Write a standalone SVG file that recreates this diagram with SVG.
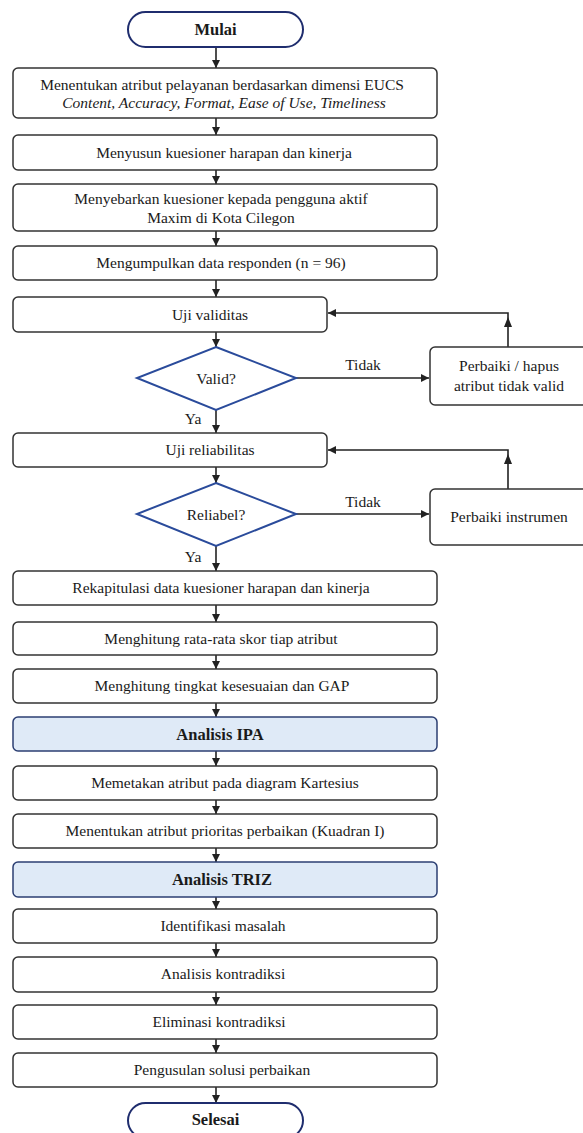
<svg xmlns="http://www.w3.org/2000/svg" width="583" height="1133" viewBox="0 0 583 1133" font-family="Liberation Serif, serif">
<style>
text{font-family:"Liberation Serif","Times New Roman",serif;font-size:15.5px;fill:#1a1a1a;text-anchor:middle}
.b{font-weight:bold;font-size:16.5px}
.i{font-style:italic}
.box{fill:#fff;stroke:#333;stroke-width:1.5}
.hl{fill:#dfeaf7;stroke:#2c3f73;stroke-width:1.5}
.term{fill:#fff;stroke:#1f2d6e;stroke-width:2}
.dia{fill:#fff;stroke:#2a4b9b;stroke-width:2}
.c{fill:none;stroke:#222;stroke-width:1.6}
.ah{fill:#222}
</style>
<defs>
<marker id="arr" viewBox="0 0 10 10" refX="10" refY="5" markerWidth="9" markerHeight="8" markerUnits="userSpaceOnUse" orient="auto">
<path d="M0,0 L10,5 L0,10 z" fill="#222"/>
</marker>
</defs>
<rect width="583" height="1133" fill="#fff"/>
<g id="connectors">
<path class="c" marker-end="url(#arr)" d="M216,47 V68"/>
<path class="c" marker-end="url(#arr)" d="M216,118 V135"/>
<path class="c" marker-end="url(#arr)" d="M216,170 V184"/>
<path class="c" marker-end="url(#arr)" d="M216,231 V246"/>
<path class="c" marker-end="url(#arr)" d="M216,280 V297"/>
<path class="c" marker-end="url(#arr)" d="M216,332 V347"/>
<path class="c" marker-end="url(#arr)" d="M216,410 V433"/>
<path class="c" marker-end="url(#arr)" d="M216,467 V483"/>
<path class="c" marker-end="url(#arr)" d="M216,546 V571"/>
<path class="c" marker-end="url(#arr)" d="M216,605 V622"/>
<path class="c" marker-end="url(#arr)" d="M216,655 V669"/>
<path class="c" marker-end="url(#arr)" d="M216,703 V717"/>
<path class="c" marker-end="url(#arr)" d="M216,751 V766"/>
<path class="c" marker-end="url(#arr)" d="M216,800 V814"/>
<path class="c" marker-end="url(#arr)" d="M216,848 V862"/>
<path class="c" marker-end="url(#arr)" d="M216,897 V909"/>
<path class="c" marker-end="url(#arr)" d="M216,943 V957"/>
<path class="c" marker-end="url(#arr)" d="M216,992 V1005"/>
<path class="c" marker-end="url(#arr)" d="M216,1039 V1053"/>
<path class="c" marker-end="url(#arr)" d="M216,1087 V1103"/>
<path class="c" marker-end="url(#arr)" d="M296,378 H429"/>
<path class="c" marker-end="url(#arr)" d="M296,514 H429"/>
<path class="c" marker-end="url(#arr)" d="M508,347 V313 H328"/>
<polygon class="ah" points="508,317 504,327 512,327"/>
<path class="c" marker-end="url(#arr)" d="M508,489 V450 H328"/>
<polygon class="ah" points="508,454 504,464 512,464"/>
<text x="363" y="370">Tidak</text>
<text x="363" y="507">Tidak</text>
<text x="193" y="424">Ya</text>
<text x="193" y="562">Ya</text>
</g>
<g id="n-mulai"><rect class="term" x="128" y="12" width="175" height="35" rx="17.5"/><text class="b" x="215.5" y="35">Mulai</text></g>
<g id="n-atribut"><rect class="box" x="13" y="68" width="424" height="50" rx="5"/><text x="222" y="90">Menentukan atribut pelayanan berdasarkan dimensi EUCS</text><text class="i" x="224" y="108">Content, Accuracy, Format, Ease of Use, Timeliness</text></g>
<g id="n-susun"><rect class="box" x="13" y="135" width="424" height="35" rx="5"/><text x="224" y="158">Menyusun kuesioner harapan dan kinerja</text></g>
<g id="n-sebar"><rect class="box" x="13" y="184" width="424" height="47" rx="5"/><text x="221" y="204">Menyebarkan kuesioner kepada pengguna aktif</text><text x="221" y="223">Maxim di Kota Cilegon</text></g>
<g id="n-kumpul"><rect class="box" x="13" y="246" width="424" height="34" rx="5"/><text x="221" y="268">Mengumpulkan data responden (n = 96)</text></g>
<g id="n-validitas"><rect class="box" x="13" y="297" width="314" height="35" rx="5"/><text x="210" y="320">Uji validitas</text></g>
<g id="n-valid"><polygon class="dia" points="216,347 296,378 216,410 137,378"/><text x="216" y="384">Valid?</text></g>
<g id="n-hapus"><rect class="box" x="430" y="347" width="162" height="58" rx="5"/><text x="509" y="371">Perbaiki / hapus</text><text x="509" y="391">atribut tidak valid</text></g>
<g id="n-reliabilitas"><rect class="box" x="13" y="433" width="314" height="34" rx="5"/><text x="210" y="455">Uji reliabilitas</text></g>
<g id="n-reliabel"><polygon class="dia" points="216,483 296,514 216,546 137,514"/><text x="216" y="520">Reliabel?</text></g>
<g id="n-instrumen"><rect class="box" x="430" y="489" width="162" height="56" rx="5"/><text x="509" y="522">Perbaiki instrumen</text></g>
<g id="n-rekap"><rect class="box" x="13" y="571" width="424" height="34" rx="5"/><text x="221" y="593">Rekapitulasi data kuesioner harapan dan kinerja</text></g>
<g id="n-rata"><rect class="box" x="13" y="622" width="424" height="33" rx="5"/><text x="221" y="644">Menghitung rata-rata skor tiap atribut</text></g>
<g id="n-gap"><rect class="box" x="13" y="669" width="424" height="34" rx="5"/><text x="222" y="691">Menghitung tingkat kesesuaian dan GAP</text></g>
<g id="n-ipa"><rect class="hl" x="13" y="717" width="424" height="34" rx="5"/><text class="b" x="220" y="740">Analisis IPA</text></g>
<g id="n-kartesius"><rect class="box" x="13" y="766" width="424" height="34" rx="5"/><text x="225" y="788">Memetakan atribut pada diagram Kartesius</text></g>
<g id="n-prioritas"><rect class="box" x="13" y="814" width="424" height="34" rx="5"/><text x="225" y="836">Menentukan atribut prioritas perbaikan (Kuadran I)</text></g>
<g id="n-triz"><rect class="hl" x="13" y="862" width="424" height="35" rx="5"/><text class="b" x="222" y="885">Analisis TRIZ</text></g>
<g id="n-identifikasi"><rect class="box" x="13" y="909" width="424" height="34" rx="5"/><text x="223" y="931">Identifikasi masalah</text></g>
<g id="n-analisis"><rect class="box" x="13" y="957" width="424" height="35" rx="5"/><text x="223" y="979">Analisis kontradiksi</text></g>
<g id="n-eliminasi"><rect class="box" x="13" y="1005" width="424" height="34" rx="5"/><text x="219" y="1027">Eliminasi kontradiksi</text></g>
<g id="n-usul"><rect class="box" x="13" y="1053" width="424" height="34" rx="5"/><text x="222" y="1075">Pengusulan solusi perbaikan</text></g>
<g id="n-selesai"><rect class="term" x="128" y="1103" width="175" height="35" rx="17.5"/><text class="b" x="215.5" y="1125">Selesai</text></g>
</svg>
